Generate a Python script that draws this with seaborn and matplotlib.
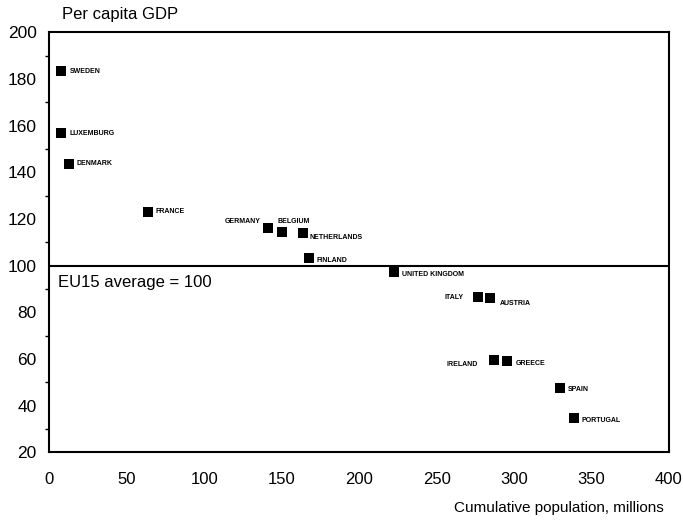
import pandas as pd
import matplotlib
matplotlib.use("Agg")
import matplotlib.pyplot as plt
from matplotlib.ticker import MultipleLocator
import seaborn as sns

# DATA
countries = ["SWEDEN", "LUXEMBURG", "DENMARK", "FRANCE", "GERMANY", "BELGIUM",
             "NETHERLANDS", "FINLAND", "UNITED KINGDOM", "ITALY", "AUSTRIA",
             "IRELAND", "GREECE", "SPAIN", "PORTUGAL"]
cum_pop = [7.7, 7.7, 12.7, 63.7, 140.9, 150.3, 163.5, 167.4, 222.6,
           276.4, 284.3, 286.9, 295.5, 329.7, 339.0]
gdp_pc = [183.4, 156.7, 143.7, 123.1, 116.3, 114.3, 113.9, 103.2, 97.4,
          86.7, 86.0, 59.6, 59.3, 47.7, 34.6]

x_ticks = [0, 50, 100, 150, 200, 250, 300, 350, 400]
y_ticks = [20, 40, 60, 80, 100, 120, 140, 160, 180, 200]

df = pd.DataFrame({"country": countries, "pop": cum_pop, "gdp": gdp_pc})

# label placement (pixel offsets from marker, alignment)
label_pos = {
    "SWEDEN": (9, 0, "left"), "LUXEMBURG": (8, 0, "left"),
    "DENMARK": (8, 0, "left"), "FRANCE": (8, 0, "left"),
    "GERMANY": (-7, 6, "right"), "BELGIUM": (-5, 11, "left"),
    "NETHERLANDS": (7, -4, "left"), "FINLAND": (8, -2, "left"),
    "UNITED KINGDOM": (8, -3, "left"), "ITALY": (-14, -1, "right"),
    "AUSTRIA": (10, -5, "left"), "IRELAND": (-16, -4, "right"),
    "GREECE": (9, -3, "left"), "SPAIN": (8, -2, "left"),
    "PORTUGAL": (7, -2, "left"),
}

sns.set_style("white")
plt.rcParams["font.family"] = ["Liberation Sans", "DejaVu Sans"]
plt.rcParams["text.color"] = "black"
plt.rcParams["xtick.color"] = "black"
plt.rcParams["ytick.color"] = "black"
plt.rcParams["axes.labelcolor"] = "black"

fig = plt.figure(figsize=(6.83, 5.22), dpi=100)
ax = fig.add_axes([0.0722, 0.1333, 0.9073, 0.8047])

sns.scatterplot(data=df, x="pop", y="gdp", marker="s", color="black",
                s=50, edgecolor="black", linewidth=0, ax=ax, zorder=3)

for name, xv, yv in zip(countries, cum_pop, gdp_pc):
    dx, dy, ha = label_pos[name]
    ax.annotate(name, (xv, yv), xytext=(dx, dy), textcoords="offset pixels",
                ha=ha, va="center", fontsize=5, fontweight="bold", color="black")

ax.axhline(100, color="black", lw=1.5, zorder=2)

ax.set_xlim(0, 400)
ax.set_ylim(20, 200)
ax.set_xticks(x_ticks)
ax.set_yticks(y_ticks)
ax.yaxis.set_minor_locator(MultipleLocator(10))
ax.tick_params(axis="x", length=0, pad=14, labelsize=12)
ax.tick_params(axis="y", which="major", length=3, width=1, pad=6, labelsize=12.5)
ax.tick_params(axis="y", which="minor", length=3, width=1, left=True)
for sp in ax.spines.values():
    sp.set_linewidth(1.5)
    sp.set_color("black")
ax.set_xlabel("")
ax.set_ylabel("")

ax.text(5.5, 92.6, "EU15 average = 100", fontsize=12, va="center", ha="left")
fig.text(62 / 683, 1 - 15 / 522, "Per capita GDP", fontsize=12, va="center", ha="left")
fig.text(664 / 683, 1 - 508 / 522, "Cumulative population, millions",
         fontsize=11, va="center", ha="right")

fig.savefig("out.png", dpi=100)
